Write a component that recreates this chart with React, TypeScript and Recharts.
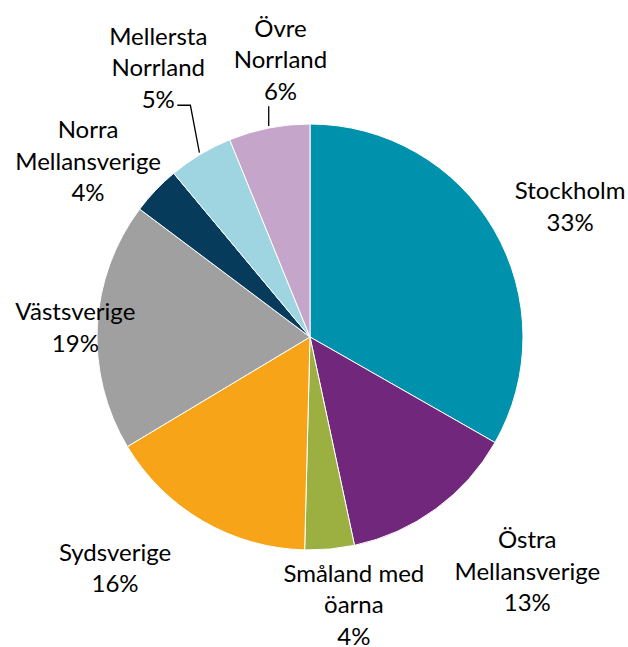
import { Cell, Pie, PieChart } from 'recharts';

const regions = [
  'Stockholm',
  'Östra\nMellansverige',
  'Småland med\nöarna',
  'Sydsverige',
  'Västsverige',
  'Norra\nMellansverige',
  'Mellersta\nNorrland',
  'Övre\nNorrland'
];
const shares = [33.25, 13.4, 3.75, 16.0, 18.85, 3.7, 4.9, 6.15];
const colors = ['#0092AD', '#71277B', '#9CB041', '#F7A419', '#A0A0A0', '#073B5C', '#9FD4E1', '#C5A6CA'];

// nudge of each label block from a point just outside the slice
const nudges = [
  [37, -2],
  [65, 25],
  [20, 10],
  [-65, 7],
  [23, 3],
  [-35, 1],
  [-19, -49],
  [20, -25]
];
const leaders = ['', '', '', '', '', '', 'elbow', 'vertical'];

const data = regions.map((name, i) => ({ name, value: shares[i] }));

const RADIAN = Math.PI / 180;
const LINE_H = 31.5;

function renderLabel(props: any) {
  const { cx, cy, midAngle, outerRadius, index, percent } = props;
  const cos = Math.cos(-midAngle * RADIAN);
  const sin = Math.sin(-midAngle * RADIAN);
  const r = outerRadius + 45;
  const bx = cx + r * cos + nudges[index][0];
  const by = cy + r * sin + nudges[index][1];
  const lines = [...regions[index].split('\n'), `${Math.round(percent * 100)}%`];
  const n = lines.length;
  const ex = cx + (outerRadius + 2) * cos;
  const ey = cy + (outerRadius + 2) * sin;
  const lastY = by + ((n - 1) / 2) * LINE_H;

  let leader = null;
  if (leaders[index] === 'vertical') {
    leader = <line x1={ex} y1={ey} x2={ex} y2={lastY + 16} stroke="#000" strokeWidth={1.3} />;
  } else if (leaders[index] === 'elbow') {
    leader = (
      <polyline
        points={`${ex},${ey} ${ex - 9},${lastY + 7} ${bx + 19},${lastY + 7}`}
        fill="none"
        stroke="#000"
        strokeWidth={1.3}
      />
    );
  }

  return (
    <g>
      {leader}
      {lines.map((t, i) => (
        <text
          key={i}
          x={bx}
          y={by + (i - (n - 1) / 2) * LINE_H}
          textAnchor="middle"
          dominantBaseline="central"
          fill="#000"
          fontSize={24}
          fontFamily="Lato, 'Noto Sans', sans-serif"
        >
          {t}
        </text>
      ))}
    </g>
  );
}

export default function App() {
  return (
    <div style={{ width: 628, height: 647 }}>
      <style>{'body { margin: 0; }'}</style>
      <PieChart width={628} height={647}>
        <Pie
          data={data}
          dataKey="value"
          nameKey="name"
          cx={305}
          cy={332}
          outerRadius={213}
          startAngle={90}
          endAngle={-270}
          stroke="#fff"
          strokeWidth={1}
          label={renderLabel}
          labelLine={false}
          isAnimationActive={false}
        >
          {data.map((d, i) => (
            <Cell key={d.name} fill={colors[i]} />
          ))}
        </Pie>
      </PieChart>
    </div>
  );
}
